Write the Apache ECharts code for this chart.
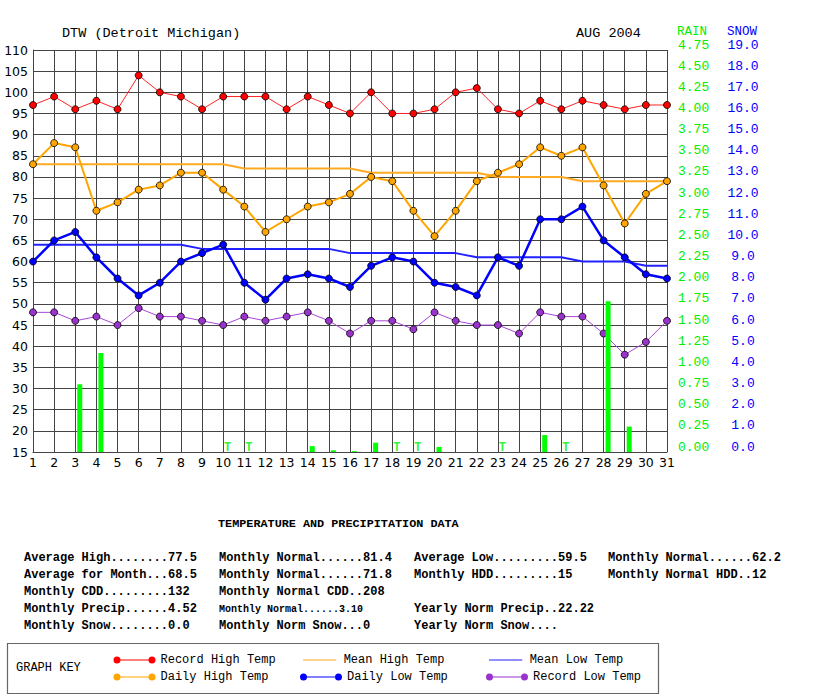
<!DOCTYPE html>
<html>
<head>
<meta charset="utf-8">
<title>DTW August 2004</title>
<script src="https://cdn.jsdelivr.net/npm/echarts@6/dist/echarts.min.js"></script>
<style>
    html, body { margin: 0; padding: 0; background: #fff; }
    #chart { width: 813px; height: 696px; }
</style>
</head>
<body>
<div id="chart"></div>
<script>
// days of the month
var days = [];
for (var d = 1; d <= 31; d++) days.push(String(d));

// temperatures (F)
var recordHigh = [97, 99, 96, 98, 96, 104, 100, 99, 96, 99, 99, 99, 96, 99, 97, 95, 100, 95, 95, 96, 100, 101, 96, 95, 98, 96, 98, 97, 96, 97, 97];
var dailyHigh = [83, 88, 87, 72, 74, 77, 78, 81, 81, 77, 73, 67, 70, 73, 74, 76, 80, 79, 72, 66, 72, 79, 81, 83, 87, 85, 87, 78, 69, 76, 79];
var meanHigh = [83, 83, 83, 83, 83, 83, 83, 83, 83, 83, 82, 82, 82, 82, 82, 82, 81, 81, 81, 81, 81, 81, 80, 80, 80, 80, 79, 79, 79, 79, 79];
var dailyLow = [60, 65, 67, 61, 56, 52, 55, 60, 62, 64, 55, 51, 56, 57, 56, 54, 59, 61, 60, 55, 54, 52, 61, 59, 70, 70, 73, 65, 61, 57, 56];
var meanLow = [64, 64, 64, 64, 64, 64, 64, 64, 63, 63, 63, 63, 63, 63, 63, 62, 62, 62, 62, 62, 62, 61, 61, 61, 61, 61, 60, 60, 60, 59, 59];
var recordLow = [48, 48, 46, 47, 45, 49, 47, 47, 46, 45, 47, 46, 47, 48, 46, 43, 46, 46, 44, 48, 46, 45, 45, 43, 48, 47, 47, 43, 38, 41, 46];

// precipitation (inches), trace days marked "T"
var rain = [0, 0, 0.80, 1.17, 0, 0, 0, 0, 0, 0, 0, 0, 0, 0.07, 0.02, 0.01, 0.11, 0, 0, 0.06, 0, 0, 0, 0, 0.20, 0, 0, 1.78, 0.30, 0, 0];
var traceDays = [10, 11, 18, 19, 23, 26];

// summary text under the chart
var statsHeader = 'TEMPERATURE AND PRECIPITATION DATA';
var statsCol1 = ['Average High........77.5', 'Average for Month...68.5', 'Monthly CDD.........132', 'Monthly Precip......4.52', 'Monthly Snow........0.0'];
var statsCol2 = ['Monthly Normal......81.4', 'Monthly Normal......71.8', 'Monthly Normal CDD..208', 'Monthly Normal......3.10', 'Monthly Norm Snow...0'];
var statsCol3 = ['Average Low.........59.5', 'Monthly HDD.........15', '', 'Yearly Norm Precip..22.22', 'Yearly Norm Snow....'];
var statsCol4 = ['Monthly Normal......62.2', 'Monthly Normal HDD..12', '', '', ''];

var MONO = '"Liberation Mono", "DejaVu Sans Mono", monospace';
var SANS = '"DejaVu Sans", sans-serif';
var GRID = '#444';

var traceData = days.map(function (d) {
    return traceDays.indexOf(Number(d)) >= 0 ? 0 : '-';
});

// dot - line - dot icon for the key
var dotLine = 'path://M0,4A3.5,3.5,0,1,1,7,4A3.5,3.5,0,1,1,0,4Z' +
    'M35,4A3.5,3.5,0,1,1,42,4A3.5,3.5,0,1,1,35,4Z' +
    'M3.5,3.5L38.5,3.5L38.5,4.5L3.5,4.5Z';
// plain line icon (the two empty moves keep the icon's height)
var plainLine = 'path://M0,0L0,0ZM0,3.4L38,3.4L38,4.6L0,4.6ZM0,8L0,8Z';

function keyLegend(name, left, top, icon, w) {
    return {
        data: [{ name: name, icon: icon }],
        left: left,
        top: top,
        padding: 0,
        itemWidth: w,
        itemHeight: 7,
        selectedMode: false,
        itemStyle: { borderWidth: 0 },
        textStyle: { fontFamily: MONO, fontSize: 12, color: '#000' }
    };
}

function dotStyle(color) {
    return { color: color, borderColor: '#000', borderWidth: 0.8 };
}

function statText(lines, x) {
    var out = [];
    var ys = [558, 575, 592, 609, 626];
    lines.forEach(function (t, i) {
        if (!t) return;
        var small = (t === 'Monthly Normal......3.10');
        out.push({
            type: 'text',
            x: x,
            y: ys[i],
            style: {
                text: t,
                font: 'bold ' + (small ? 10 : 12) + 'px ' + MONO,
                fill: '#000',
                verticalAlign: 'middle'
            }
        });
    });
    return out;
}

var graphics = [
    { type: 'text', x: 62, y: 33, style: { text: 'DTW (Detroit Michigan)', font: '13.5px ' + MONO, fill: '#000', verticalAlign: 'middle' } },
    { type: 'text', x: 576, y: 33, style: { text: 'AUG 2004', font: '13.5px ' + MONO, fill: '#000', verticalAlign: 'middle' } },
    { type: 'text', x: 218, y: 524, style: { text: statsHeader, font: 'bold 11.8px ' + MONO, fill: '#000', verticalAlign: 'middle' } },
    { type: 'rect', shape: { x: 7.5, y: 643.5, width: 651, height: 50 }, style: { fill: '#fff', stroke: '#666', lineWidth: 1.2 }, z: -1 },
    { type: 'text', x: 16, y: 668, style: { text: 'GRAPH KEY', font: '12px ' + MONO, fill: '#000', verticalAlign: 'middle' } }
].concat(statText(statsCol1, 24), statText(statsCol2, 219), statText(statsCol3, 414), statText(statsCol4, 608));

var option = {
    animation: false,
    backgroundColor: '#fff',
    grid: { left: 33, right: 146, top: 50, bottom: 244 },
    legend: [
        keyLegend('Record High Temp', 113.5, 654, dotLine, 42),
        keyLegend('Mean High Temp', 303, 654, plainLine, 38),
        keyLegend('Mean Low Temp', 489, 654, plainLine, 38),
        keyLegend('Daily High Temp', 113.5, 671, dotLine, 42),
        keyLegend('Daily Low Temp', 300, 671, dotLine, 42),
        keyLegend('Record Low Temp', 486, 671, dotLine, 42)
    ],
    graphic: graphics,
    xAxis: {
        type: 'category',
        data: days,
        boundaryGap: false,
        axisLine: { show: true, lineStyle: { color: GRID } },
        axisTick: { show: false },
        axisLabel: { interval: 0, color: '#000', fontFamily: SANS, fontSize: 12.5, margin: 4 },
        splitLine: { show: true, interval: 0, lineStyle: { color: GRID, width: 1 } }
    },
    yAxis: [
        {
            type: 'value',
            min: 15,
            max: 110,
            interval: 5,
            position: 'left',
            axisLine: { show: true, lineStyle: { color: GRID } },
            axisTick: { show: false },
            axisLabel: { color: '#000', fontFamily: SANS, fontSize: 12.5, margin: 5 },
            splitLine: { show: true, lineStyle: { color: GRID, width: 1 } }
        },
        {
            type: 'value',
            min: 0,
            max: 4.75,
            interval: 0.25,
            position: 'right',
            name: 'RAIN',
            nameLocation: 'end',
            nameGap: 11,
            nameTextStyle: { color: '#00ee00', fontFamily: MONO, fontSize: 12.5, align: 'left', padding: [0, 0, 0, 10], lineHeight: 12 },
            axisLine: { show: false },
            axisTick: { show: false },
            splitLine: { show: false },
            axisLabel: {
                color: '#00ee00', fontFamily: MONO, fontSize: 13, margin: 11, verticalAlign: 'bottom', lineHeight: 10,
                formatter: function (v) { return v.toFixed(2); }
            }
        },
        {
            type: 'value',
            min: 0,
            max: 19,
            interval: 1,
            position: 'right',
            offset: 60,
            name: 'SNOW',
            nameLocation: 'end',
            nameGap: 11,
            nameTextStyle: { color: '#0000ff', fontFamily: MONO, fontSize: 12.5, align: 'left', lineHeight: 12 },
            axisLine: { show: false },
            axisTick: { show: false },
            splitLine: { show: false },
            axisLabel: {
                color: '#0000ff', fontFamily: MONO, fontSize: 13, margin: 16, align: 'center', verticalAlign: 'bottom', lineHeight: 10,
                formatter: function (v) { return v.toFixed(1); }
            }
        }
    ],
    series: [
        {
            // empty spacer so the rain bars sit just right of each day line
            name: 'spacer',
            type: 'bar',
            yAxisIndex: 1,
            data: [],
            barWidth: 5,
            barGap: '80%'
        },
        {
            name: 'Rain',
            type: 'bar',
            yAxisIndex: 1,
            data: rain,
            barWidth: 5,
            barGap: '80%',
            itemStyle: { color: '#00ff00' },
            z: 4
        },
        {
            name: 'Trace',
            type: 'scatter',
            yAxisIndex: 1,
            data: traceData,
            symbolSize: 0,
            label: {
                show: true, position: 'top', distance: 0, offset: [4.5, 2],
                formatter: 'T', color: '#00ee00', fontFamily: MONO, fontSize: 12, fontWeight: 'bold'
            },
            z: 4
        },
        {
            name: 'Mean High Temp',
            type: 'line',
            data: meanHigh,
            symbol: 'none',
            lineStyle: { color: '#ffaa22', width: 2 },
            itemStyle: { color: '#ffaa22' },
            z: 2
        },
        {
            name: 'Mean Low Temp',
            type: 'line',
            data: meanLow,
            symbol: 'none',
            lineStyle: { color: '#2222ff', width: 2 },
            itemStyle: { color: '#2222ff' },
            z: 2
        },
        {
            name: 'Record High Temp',
            type: 'line',
            data: recordHigh,
            symbol: 'circle',
            symbolSize: 7,
            lineStyle: { color: '#ff2222', width: 1 },
            itemStyle: dotStyle('#ff0000'),
            z: 3
        },
        {
            name: 'Daily High Temp',
            type: 'line',
            data: dailyHigh,
            symbol: 'circle',
            symbolSize: 7,
            lineStyle: { color: '#ffa500', width: 2 },
            itemStyle: dotStyle('#ffa500'),
            z: 3
        },
        {
            name: 'Daily Low Temp',
            type: 'line',
            data: dailyLow,
            symbol: 'circle',
            symbolSize: 7,
            lineStyle: { color: '#0000ff', width: 2.5 },
            itemStyle: dotStyle('#0000ff'),
            z: 3
        },
        {
            name: 'Record Low Temp',
            type: 'line',
            data: recordLow,
            symbol: 'circle',
            symbolSize: 7,
            lineStyle: { color: '#aa44dd', width: 1 },
            itemStyle: dotStyle('#9933cc'),
            z: 3
        }
    ]
};

var chart = echarts.init(document.getElementById('chart'), null, { renderer: 'svg' });
chart.setOption(option);
</script>
</body>
</html>
